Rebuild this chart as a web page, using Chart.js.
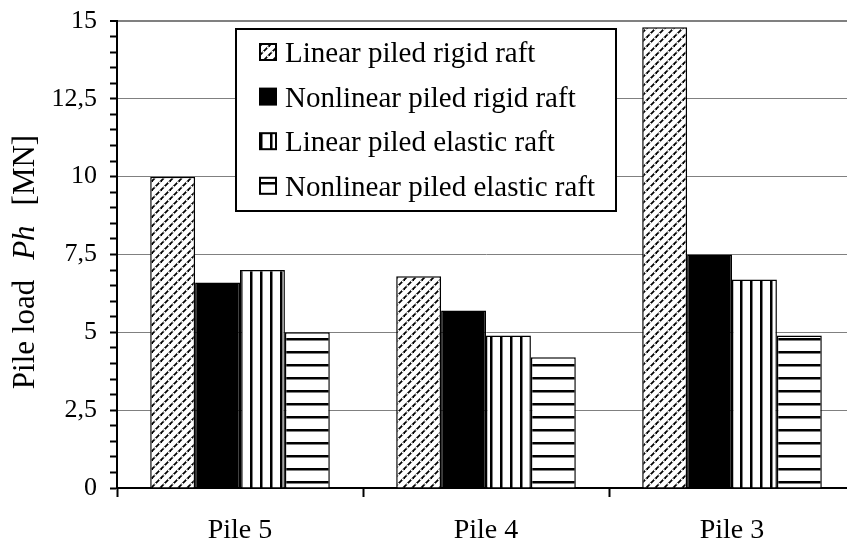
<!DOCTYPE html>
<html>
<head>
<meta charset="utf-8">
<script src="https://cdn.jsdelivr.net/npm/chart.js@4.4.1/dist/chart.umd.min.js"></script>
<style>
html, body { margin: 0; padding: 0; background: #fff; overflow: hidden; }
#wrap { position: relative; width: 858px; height: 546px; }
</style>
</head>
<body>
<div id="wrap"><canvas id="grafico" width="858" height="546"></canvas></div>
<script>
const piles = ['Pile 5', 'Pile 4', 'Pile 3'];
const linearRigid = [10, 6.8, 14.8];
const nonlinearRigid = [6.6, 5.7, 7.5];
const linearElastic = [7.0, 4.9, 6.7];
const nonlinearElastic = [5.0, 4.2, 4.9];
const seriesNames = ['Linear piled rigid raft', 'Nonlinear piled rigid raft', 'Linear piled elastic raft', 'Nonlinear piled elastic raft'];
const yTicks = [0, 2.5, 5, 7.5, 10, 12.5, 15];

const serif = "'Liberation Serif', 'Times New Roman', serif";

// pattern fills like the old excel ones
function makePattern(kind) {
    const c = document.createElement('canvas');
    const g = c.getContext('2d');
    let s = 9;
    if (kind === 'vert') s = 10;
    if (kind === 'horiz') s = 13;
    c.width = s; c.height = s;
    g.fillStyle = '#fff';
    g.fillRect(0, 0, s, s);
    g.fillStyle = '#000';
    g.strokeStyle = '#000';
    if (kind === 'diag') {
        g.lineWidth = 1.8;
        for (const k of [-s, 0, s]) {
            g.beginPath();
            g.moveTo(-2, s + k + 2);
            g.lineTo(s + k + 2, -2);
            g.stroke();
        }
        // little breaks so the lines look dashed
        g.fillStyle = '#fff';
        g.fillRect(s * 0.25 - 0.8, s * 0.75 - 0.8, 1.8, 1.8);
        g.fillRect(s * 0.75 - 0.8, s * 0.25 - 0.8, 1.8, 1.8);
    } else if (kind === 'vert') {
        g.fillRect(0, 0, 2.5, s);
    } else if (kind === 'horiz') {
        g.fillRect(0, 0, s, 2.5);
    }
    return g.createPattern(c, 'repeat');
}

const fills = [makePattern('diag'), '#000', makePattern('vert'), makePattern('horiz')];
const valores = [linearRigid, nonlinearRigid, linearElastic, nonlinearElastic];

// legend box inside the plot
const legendBox = {
    id: 'legendBox',
    afterDatasetsDraw(chart) {
        const ctx = chart.ctx;
        ctx.save();
        ctx.fillStyle = '#fff';
        ctx.fillRect(236, 29, 380, 182);
        ctx.lineWidth = 2;
        ctx.strokeStyle = '#000';
        ctx.strokeRect(236, 29, 380, 182);
        chart.data.datasets.forEach((ds, i) => {
            const base = 62 + i * 44.6;
            ctx.fillStyle = ds.backgroundColor;
            ctx.fillRect(260, base - 18, 16, 16);
            ctx.lineWidth = 2;
            ctx.strokeStyle = '#000';
            ctx.strokeRect(260, base - 18, 16, 16);
            ctx.fillStyle = '#000';
            ctx.font = '29px ' + serif;
            ctx.textBaseline = 'alphabetic';
            ctx.textAlign = 'left';
            ctx.fillText(ds.label, 285, base);
        });
        ctx.restore();
    }
};

// y title with italic Ph
const yTitle = {
    id: 'yTitle',
    afterDraw(chart) {
        const ctx = chart.ctx;
        const parts = [['Pile load', ''], ['Ph', 'italic '], ['[MN]', '']];
        const gap = 20;
        ctx.save();
        let total = gap * 2;
        parts.forEach(p => { ctx.font = p[1] + '31px ' + serif; total += ctx.measureText(p[0]).width; });
        ctx.translate(34, 262);
        ctx.rotate(-Math.PI / 2);
        ctx.fillStyle = '#000';
        ctx.textBaseline = 'alphabetic';
        let x = -total / 2;
        parts.forEach(p => {
            ctx.font = p[1] + '31px ' + serif;
            ctx.fillText(p[0], x, 0);
            x += ctx.measureText(p[0]).width + gap;
        });
        ctx.restore();
    }
};

new Chart(document.getElementById('grafico'), {
    type: 'bar',
    plugins: [legendBox, yTitle],
    data: {
        labels: piles,
        datasets: seriesNames.map((name, i) => ({
            label: name,
            data: valores[i],
            backgroundColor: fills[i],
            borderColor: '#000',
            borderWidth: 1.5,
            barPercentage: 1,
            categoryPercentage: 0.73
        }))
    },
    options: {
        responsive: false,
        animation: false,
        layout: { padding: { top: 21, right: 3, left: 0, bottom: 0 } },
        plugins: {
            legend: { display: false },
            tooltip: { enabled: false }
        },
        scales: {
            x: {
                grid: { offset: true, drawOnChartArea: false, color: '#000', tickLength: 9, tickWidth: 2 },
                border: { color: '#000', width: 2 },
                ticks: { color: '#000', font: { family: serif, size: 28 }, padding: 17 },
                afterFit: s => { s.height = 58; }
            },
            y: {
                min: 0,
                max: 15,
                ticks: {
                    stepSize: 0.5,
                    autoSkip: false,
                    color: '#000',
                    font: { family: serif, size: 26, lineHeight: 0.4 },
                    padding: 13,
                    callback: v => yTicks.includes(v) ? String(v).replace('.', ',') : ''
                },
                grid: {
                    color: c => (c.tick && c.tick.value > 0 && yTicks.includes(c.tick.value)) ? '#808080' : 'rgba(0,0,0,0)',
                    lineWidth: c => (c.tick && c.tick.value === 15) ? 2 : 1,
                    tickColor: '#000',
                    tickLength: 7,
                    tickWidth: 2
                },
                border: { color: '#000', width: 2 },
                afterFit: s => { s.width = 117; }
            }
        }
    }
});
</script>
</body>
</html>
